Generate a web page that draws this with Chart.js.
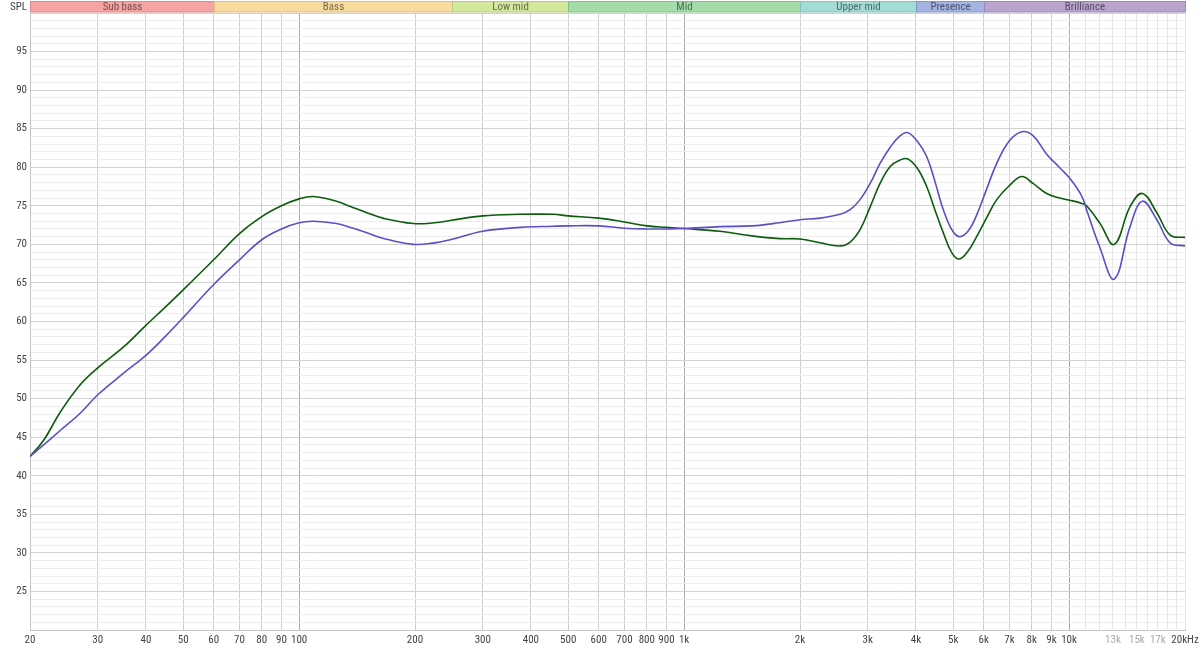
<!DOCTYPE html>
<html lang="en">
<head>
    <meta charset="UTF-8">
    <title>Frequency Response</title>
    <script src="https://cdn.jsdelivr.net/npm/chart.js"></script>
    <style>
        body {
            margin: 0;
            background: #ffffff;
        }
        canvas {
            display: block;
        }
    </style>
</head>
<body>
    <canvas id="frChart" width="1200" height="649"></canvas>

    <script>
        // measurement points (Hz) shared by both curves
        const freqs = [20, 21.7, 24, 27, 30, 35, 40, 45, 50, 60, 70, 80, 90, 100, 109, 125, 136, 150, 165, 198,
            225, 247, 300, 375, 457, 500, 600, 700, 800, 900, 1000, 1240, 1500, 1770, 2000, 2254, 2541, 2700,
            2864, 3050, 3228, 3430, 3626, 3800, 4030, 4266, 4480, 4712, 4960, 5186, 5460, 5752, 6100, 6486,
            6990, 7534, 8060, 8745, 9470, 10100, 10800, 11100, 12000, 13100, 14400, 15500, 16900, 18300, 20000];

        const greenSpl = [42.5, 44.6, 48.3, 51.8, 54.0, 56.7, 59.5, 61.9, 64.1, 68.0, 71.4, 73.6, 75.0, 75.9, 76.2, 75.6, 74.9, 74.1, 73.4, 72.7,
            72.8, 73.1, 73.7, 73.9, 73.9, 73.7, 73.4, 72.9, 72.4, 72.2, 72.05, 71.7, 71.1, 70.75, 70.7, 70.2, 69.8, 70.3,
            71.9, 75.0, 77.9, 80.1, 80.9, 81.1, 79.9, 77.5, 74.5, 71.5, 68.9, 68.1, 69.1, 71.0, 73.4, 75.8,
            77.6, 78.8, 77.9, 76.6, 76.0, 75.7, 75.3, 75.0, 72.8, 70.0, 74.9, 76.6, 74.1, 71.2, 70.9];

        const blueSpl = [42.5, 44.0, 45.9, 48.1, 50.5, 53.3, 55.6, 58.1, 60.5, 64.8, 68.0, 70.6, 72.0, 72.8, 73.0, 72.7, 72.2, 71.5, 70.8, 70.0,
            70.2, 70.6, 71.7, 72.2, 72.35, 72.4, 72.4, 72.1, 72.0, 72.0, 72.05, 72.3, 72.4, 72.8, 73.2, 73.4, 73.9, 74.5,
            75.8, 78.0, 80.5, 82.6, 84.0, 84.5, 83.4, 81.4, 78.2, 74.5, 71.9, 71.0, 71.7, 73.8, 77.1, 80.5,
            83.4, 84.6, 84.1, 81.7, 79.9, 78.4, 76.2, 74.5, 69.7, 65.5, 72.3, 75.6, 73.2, 70.2, 69.8];

        // x grid lines and their labels ('' = line only)
        const xGrid = [20, 30, 40, 50, 60, 70, 80, 90, 100, 200, 300, 400, 500, 600, 700, 800, 900, 1000,
            2000, 3000, 4000, 5000, 6000, 7000, 8000, 9000, 10000, 11000, 12000, 13000, 14000, 15000, 16000,
            17000, 18000, 19000, 20000];
        const xLabels = ['20', '30', '40', '50', '60', '70', '80', '90', '100', '200', '300', '400', '500', '600', '700', '800', '900', '1k',
            '2k', '3k', '4k', '5k', '6k', '7k', '8k', '9k', '10k', '', '', '13k', '', '15k', '',
            '17k', '', '', '20kHz'];

        // frequency bands across the top
        const bandNames = ['Sub bass', 'Bass', 'Low mid', 'Mid', 'Upper mid', 'Presence', 'Brilliance'];
        const bandEdges = [20, 60, 250, 500, 2000, 4000, 6000, 20000];
        const bandColors = ['#f5a3a3', '#f9dc9d', '#d3e89d', '#a3dca8', '#a3dcd6', '#a3b3e2', '#bba3cf'];
        const bandBorders = ['#d88a8a', '#dcc283', '#b7cc83', '#88c08d', '#88c0ba', '#8898c6', '#9f88b3'];

        const FONT = '"Liberation Sans Narrow", "Roboto Condensed", "Noto Sans", Arial, sans-serif';

        const bandPlugin = {
            id: 'bands',
            afterDraw(chart) {
                const ctx = chart.ctx;
                const x = chart.scales.x;
                ctx.save();
                ctx.font = '11px ' + FONT;
                ctx.textAlign = 'center';
                ctx.textBaseline = 'middle';
                for (let i = 0; i < bandNames.length; i++) {
                    const x0 = Math.round(x.getPixelForValue(bandEdges[i])) + 0.5;
                    const x1 = Math.round(x.getPixelForValue(bandEdges[i + 1])) + 0.5;
                    ctx.fillStyle = bandColors[i];
                    ctx.fillRect(x0, 1, x1 - x0, 11);
                    ctx.strokeStyle = bandBorders[i];
                    ctx.lineWidth = 1;
                    ctx.strokeRect(x0, 1.5, x1 - x0, 10.5);
                    ctx.fillStyle = 'rgba(0,0,0,0.55)';
                    ctx.fillText(bandNames[i], (x0 + x1) / 2, 7);
                }
                ctx.textAlign = 'right';
                ctx.fillStyle = '#444';
                ctx.fillText('SPL', 27, 7);
                ctx.restore();
            }
        };

        function gridColorX(ctx) {
            const v = ctx.tick ? ctx.tick.value : 0;
            if (v === 100 || v === 1000 || v === 10000) return '#a9a9a9';
            if (v > 10000) return '#e6e6e6';
            return '#cfcfcf';
        }

        new Chart(document.getElementById('frChart').getContext('2d'), {
            type: 'line',
            data: {
                datasets: [
                    {
                        label: 'Blue',
                        data: freqs.map((f, i) => ({ x: f, y: blueSpl[i] })),
                        borderColor: '#5a50c6',
                        borderWidth: 1.6,
                        pointRadius: 0,
                        tension: 0.4
                    },
                    {
                        label: 'Green',
                        data: freqs.map((f, i) => ({ x: f, y: greenSpl[i] })),
                        borderColor: '#0c5c0c',
                        borderWidth: 1.6,
                        pointRadius: 0,
                        tension: 0.4
                    }
                ]
            },
            options: {
                responsive: false,
                animation: false,
                layout: { padding: { top: 13, right: 15, left: 0, bottom: 0 } },
                plugins: {
                    legend: { display: false },
                    tooltip: { enabled: false }
                },
                scales: {
                    x: {
                        type: 'logarithmic',
                        min: 20,
                        max: 20000,
                        afterBuildTicks: (scale) => {
                            scale.ticks = xGrid.map(v => ({ value: v }));
                        },
                        afterFit: (scale) => {
                            scale.height = 19;
                            scale.paddingLeft = 0;
                            scale.paddingRight = 0;
                        },
                        border: { color: '#c4c4c4' },
                        grid: { color: gridColorX, drawTicks: false },
                        ticks: {
                            autoSkip: false,
                            maxRotation: 0,
                            padding: 4,
                            font: { family: FONT, size: 11 },
                            color: (ctx) => (ctx.tick && ctx.tick.value > 10000 && ctx.tick.value < 20000) ? '#a8a8a8' : '#444',
                            callback: (value, index) => xLabels[index]
                        }
                    },
                    y: {
                        min: 20,
                        max: 100,
                        afterFit: (scale) => { scale.width = 30; },
                        border: { color: '#c4c4c4' },
                        grid: {
                            color: (ctx) => (ctx.tick && ctx.tick.value % 5 === 0) ? '#d2d2d2' : '#ededed',
                            drawTicks: false
                        },
                        ticks: {
                            stepSize: 1,
                            autoSkip: false,
                            padding: 3,
                            font: { family: FONT, size: 11 },
                            color: '#444',
                            callback: (v) => (v % 5 === 0 && v > 20 && v < 100) ? String(v) : ''
                        }
                    }
                }
            },
            plugins: [bandPlugin]
        });
    </script>
</body>
</html>
